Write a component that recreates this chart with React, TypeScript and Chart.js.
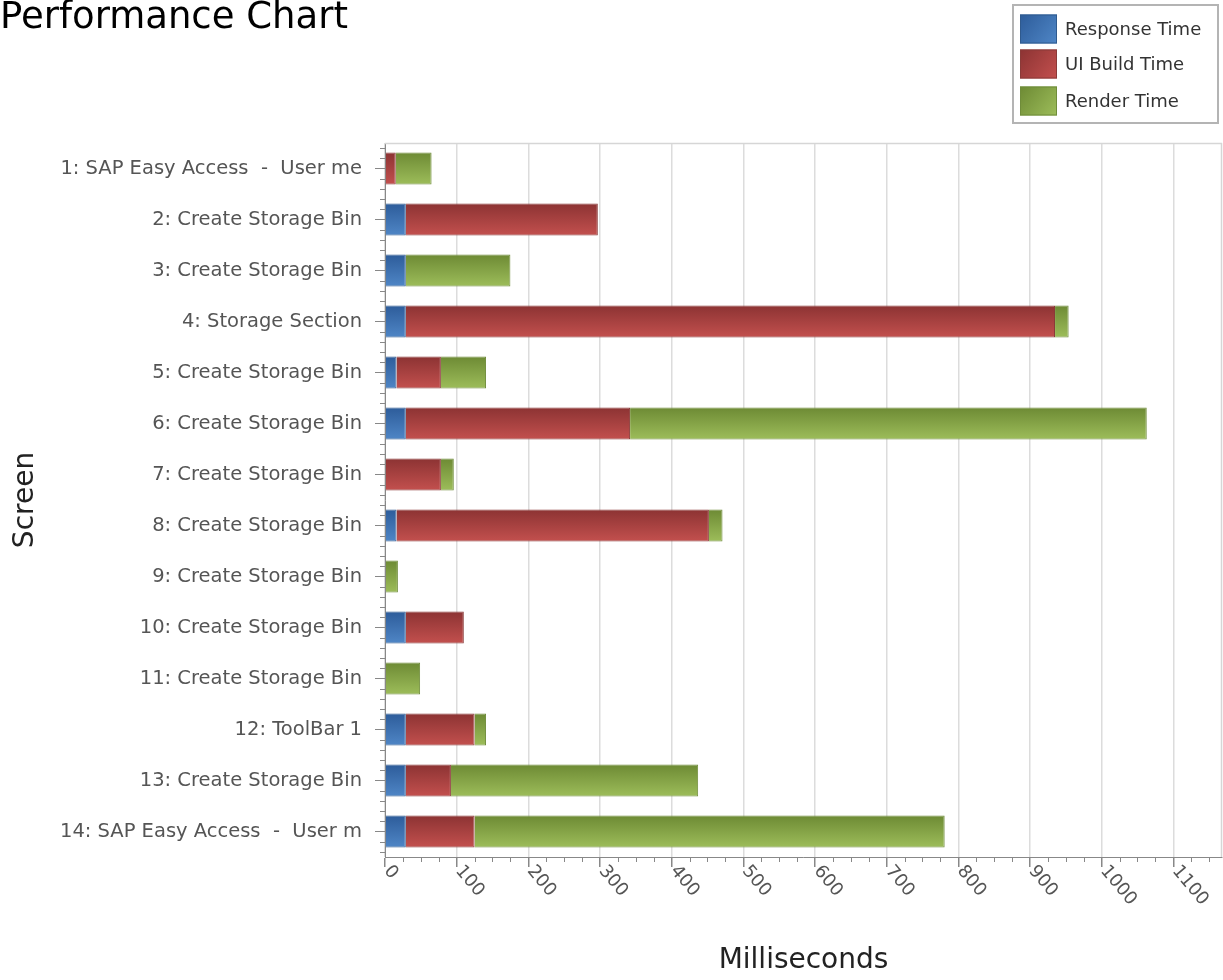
import React, { useEffect, useRef } from "react";
import { Chart, registerables } from "chart.js";

Chart.register(...registerables);

const screens = [
  "1: SAP Easy Access  -  User me",
  "2: Create Storage Bin",
  "3: Create Storage Bin",
  "4: Storage Section",
  "5: Create Storage Bin",
  "6: Create Storage Bin",
  "7: Create Storage Bin",
  "8: Create Storage Bin",
  "9: Create Storage Bin",
  "10: Create Storage Bin",
  "11: Create Storage Bin",
  "12: ToolBar 1",
  "13: Create Storage Bin",
  "14: SAP Easy Access  -  User m",
];
const responseTime = [0, 29, 29, 29, 16, 29, 0, 16, 0, 29, 0, 29, 29, 29];
const uiBuildTime = [15, 268, 0, 906, 62, 313, 78, 436, 0, 81, 0, 96, 63, 96];
const renderTime = [50, 0, 146, 19, 63, 721, 18, 19, 18, 0, 49, 16, 345, 656];
const xTickValues = [0, 100, 200, 300, 400, 500, 600, 700, 800, 900, 1000, 1100];
const xMax = 1168;

const FONT = '"DejaVu Sans", Verdana, sans-serif';
const BAR_PCT = 0.63;

const palette = [
  { top: "#2d5c9a", bottom: "#4f86c6", solid: "#3f72b0", border: "#2f5a8e" },
  { top: "#8c3333", bottom: "#c3504e", solid: "#a94442", border: "#8a3a38" },
  { top: "#6d8a34", bottom: "#9dbd5a", solid: "#84a447", border: "#6f8c3a" },
];

function barGradient(p: typeof palette[0]) {
  return (ctx: any) => {
    const chart = ctx.chart;
    const y = chart.scales && chart.scales.y;
    if (!chart.chartArea || !y || ctx.type !== "data") return p.solid;
    const c = y.getPixelForValue(ctx.dataIndex);
    const h = (y.height / screens.length) * BAR_PCT;
    if (!isFinite(c) || !isFinite(h)) return p.solid;
    const g = chart.ctx.createLinearGradient(0, c - h / 2, 0, c + h / 2);
    g.addColorStop(0, p.top);
    g.addColorStop(1, p.bottom);
    return g;
  };
}

const decorPlugin = {
  id: "decor",
  afterDraw(chart: any) {
    const ctx = chart.ctx as CanvasRenderingContext2D;
    const area = chart.chartArea;
    const xs = chart.scales.x;
    const ys = chart.scales.y;
    ctx.save();

    // top and right borders of plot
    ctx.strokeStyle = "#d6d6d6";
    ctx.lineWidth = 1.5;
    ctx.beginPath();
    ctx.moveTo(area.left, area.top + 0.5);
    ctx.lineTo(area.right, area.top + 0.5);
    ctx.moveTo(area.right - 0.5, area.top);
    ctx.lineTo(area.right - 0.5, area.bottom);
    ctx.stroke();

    // minor ticks
    ctx.strokeStyle = "#888";
    ctx.lineWidth = 1;
    ctx.beginPath();
    for (let v = 25; v < xMax; v += 25) {
      if (v % 100 === 0) continue;
      const px = Math.round(xs.getPixelForValue(v)) + 0.5;
      ctx.moveTo(px, area.bottom);
      ctx.lineTo(px, area.bottom + 5);
    }
    const rowH = ys.height / screens.length;
    for (let i = 0; i < screens.length; i++) {
      const c = ys.getPixelForValue(i);
      for (const k of [-2, -1, 1, 2]) {
        const py = Math.round(c + (k * rowH) / 5) + 0.5;
        ctx.moveTo(area.left - 5, py);
        ctx.lineTo(area.left, py);
      }
    }
    ctx.stroke();

    // x tick labels rotated clockwise
    ctx.fillStyle = "#555";
    ctx.font = `18px ${FONT}`;
    ctx.textAlign = "left";
    ctx.textBaseline = "middle";
    for (const v of xTickValues) {
      const px = xs.getPixelForValue(v);
      ctx.save();
      ctx.translate(px + 2, area.bottom + 11);
      ctx.rotate((50 * Math.PI) / 180);
      ctx.fillText(String(v), 0, 0);
      ctx.restore();
    }

    // title
    ctx.fillStyle = "#000";
    ctx.font = `37px ${FONT}`;
    ctx.textAlign = "left";
    ctx.textBaseline = "alphabetic";
    ctx.fillText("Performance Chart", 0, 28);

    // legend
    const lx = 1013, ly = 5, lw = 205, lh = 118;
    ctx.fillStyle = "#fff";
    ctx.fillRect(lx, ly, lw, lh);
    ctx.strokeStyle = "#b4b4b4";
    ctx.lineWidth = 2;
    ctx.strokeRect(lx, ly, lw, lh);
    const rowsY = [29, 64, 101];
    chart.data.datasets.forEach((ds: any, i: number) => {
      const p = palette[i];
      const cy = rowsY[i];
      const sx = 1020, sw = 37, sh = 29;
      const g = ctx.createLinearGradient(sx, cy - sh / 2, sx + sw, cy + sh / 2);
      g.addColorStop(0, p.top);
      g.addColorStop(1, p.bottom);
      ctx.fillStyle = g;
      ctx.fillRect(sx, cy - sh / 2, sw, sh);
      ctx.strokeStyle = p.border;
      ctx.lineWidth = 1;
      ctx.strokeRect(sx + 0.5, cy - sh / 2 + 0.5, sw - 1, sh - 1);
      ctx.fillStyle = "#333";
      ctx.font = `18px ${FONT}`;
      ctx.textBaseline = "middle";
      ctx.fillText(ds.label, 1065, cy + 1);
    });
    ctx.restore();
  },
};

export default function App() {
  const ref = useRef<HTMLCanvasElement | null>(null);
  useEffect(() => {
    if (!ref.current) return;
    const mk = (label: string, data: number[], i: number) => ({
      label,
      data,
      backgroundColor: barGradient(palette[i]),
      borderColor: palette[i].border,
      borderWidth: 1,
      barPercentage: BAR_PCT,
      categoryPercentage: 1,
    });
    const chart = new Chart(ref.current, {
      type: "bar",
      data: {
        labels: screens,
        datasets: [
          mk("Response Time", responseTime, 0),
          mk("UI Build Time", uiBuildTime, 1),
          mk("Render Time", renderTime, 2),
        ],
      },
      options: {
        indexAxis: "y",
        animation: false,
        responsive: false,
        devicePixelRatio: 1,
        layout: { padding: { top: 143, right: 1, left: 0, bottom: 0 } },
        plugins: {
          legend: { display: false },
          title: { display: false },
          tooltip: { enabled: false },
        },
        scales: {
          x: {
            type: "linear",
            stacked: true,
            min: 0,
            max: xMax,
            afterFit: (s: any) => {
              s.height = 123;
            },
            ticks: { display: false, stepSize: 100, includeBounds: false },
            grid: {
              color: "#dcdcdc",
              lineWidth: 1.5,
              tickColor: "#888",
              tickLength: 10,
            },
            border: { color: "#888", width: 1 },
            title: {
              display: true,
              text: "Milliseconds",
              color: "#222",
              font: { family: FONT, size: 28 },
              padding: { top: 0, bottom: 2 },
            },
          },
          y: {
            type: "category",
            stacked: true,
            afterFit: (s: any) => {
              s.width = 385;
            },
            ticks: {
              color: "#555",
              font: { family: FONT, size: 19.5 },
              padding: 13,
              autoSkip: false,
            },
            grid: {
              drawOnChartArea: false,
              offset: false,
              tickColor: "#888",
              tickLength: 10,
            },
            border: { color: "#888", width: 1 },
            title: {
              display: true,
              text: "Screen",
              color: "#222",
              font: { family: FONT, size: 28 },
              padding: { top: 9, bottom: 0 },
            },
          },
        },
      },
      plugins: [decorPlugin],
    } as any);
    return () => chart.destroy();
  }, []);
  return (
    <div style={{ position: "absolute", left: 0, top: 0, width: 1223, height: 980, background: "#fff" }}>
      <canvas ref={ref} width={1223} height={980} style={{ display: "block" }} />
    </div>
  );
}
